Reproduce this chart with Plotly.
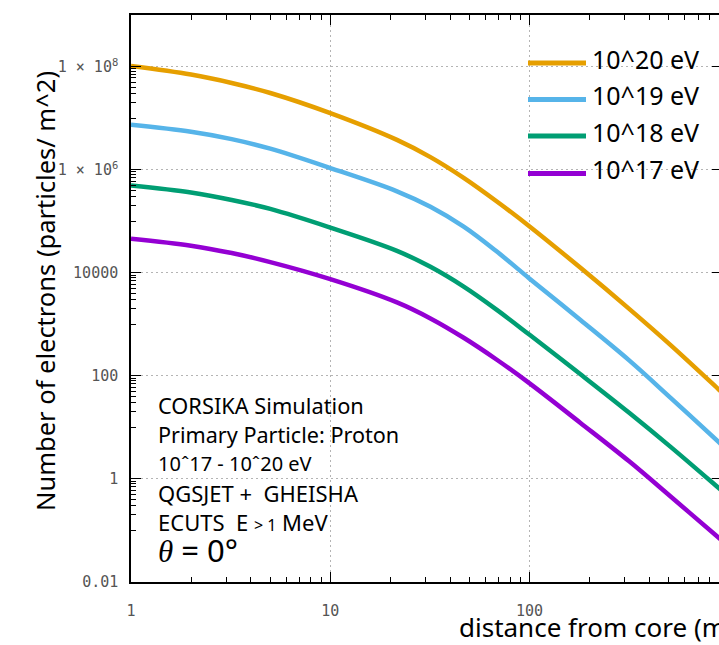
import plotly.graph_objects as go

# ---------------- data ----------------
distance_m = [1, 2, 3.2, 5, 10, 21.6, 31.8, 46.7, 68.5, 100, 180, 316, 510, 895, 1000]

e20_density = [1.023e8, 6.98e7, 4.80e7, 3.07e7, 1.25e7, 3.78e6, 1.75e6, 6.93e5, 2.41e5,
               7.91e4, 1.245e4, 1.99e3, 394, 53.1, 35.6]
e19_density = [7.41e6, 5.43e6, 3.91e6, 2.55e6, 1.074e6, 3.80e5, 1.90e5, 7.83e4, 2.57e4,
               7.67e3, 1.21e3, 199, 37.4, 5.05, 3.39]
e18_density = [4.90e5, 3.59e5, 2.58e5, 1.73e5, 7.52e4, 2.66e4, 1.30e4, 5.37e3, 1.90e3,
               624, 107, 19.2, 4.18, 0.649, 0.448]
e17_density = [4.57e4, 3.35e4, 2.41e4, 1.61e4, 7.52e3, 2.66e3, 1.30e3, 547, 205,
               71.3, 12.2, 2.19, 0.455, 0.0706, 0.049]

series_names = ["10^20 eV", "10^19 eV", "10^18 eV", "10^17 eV"]
series_values = [e20_density, e19_density, e18_density, e17_density]
series_colors = ["#E69F00", "#56B4E9", "#009E73", "#9400D3"]

y_tickvals = [0.01, 1, 100, 1e4, 1e6, 1e8]
y_ticktext = ["0.01", "1", "100", "10000",
              "1\u2009×\u200910<sup>6</sup>", "1\u2009×\u200910<sup>8</sup>"]
x_tickvals = [1, 10, 100, 1000]
x_ticktext = ["1", "10", "100", "1000"]

info_lines = [
    "CORSIKA Simulation",
    "Primary Particle: Proton",
    "10ˆ17 - 10ˆ20 eV",
    "QGSJET +&nbsp; GHEISHA",
    "ECUTS&nbsp; E <span style='font-size:16px'>&gt; 1</span> MeV",
    "<span style='font-family:Liberation Serif'><i>θ</i></span> = 0°",
]

# ---------------- layout geometry ----------------
W, H = 719, 645
L, T, B = 131, 15, 582
PW, PH = W - L, B - T


def px(xp):  # page pixel -> paper
    return (xp - L) / PW


def py(yp):
    return (B - yp) / PH


y_minor = [m * 10 * k for m in [0.01, 1, 100, 1e4, 1e6, 1e8] for k in range(1, 10)]
x_minor = [k * 10 ** d for d in range(0, 3) for k in range(2, 10)]

fig = go.Figure()
for name, vals, col in zip(series_names, series_values, series_colors):
    fig.add_trace(go.Scatter(
        x=distance_m, y=vals, mode="lines", name=name,
        line=dict(color=col, width=4.5, shape="spline", smoothing=1.0),
        showlegend=False,
    ))
fig.add_trace(go.Scatter(x=[], y=[], yaxis="y2", showlegend=False, hoverinfo="skip"))

tickfont = dict(family="DejaVu Sans Mono", size=15, color="#555555")
axis_common = dict(
    type="log", showline=True, linecolor="black", linewidth=1.5,
    ticks="inside", ticklen=10, tickwidth=1.2, tickcolor="black",
    showgrid=True, gridcolor="#b4b4b4", gridwidth=1, griddash="2px,3px",
    zeroline=False, tickfont=tickfont, tickmode="array",
)

fig.update_layout(
    width=W, height=H,
    margin=dict(l=L, r=0, t=T, b=H - B, pad=0),
    plot_bgcolor="white", paper_bgcolor="white",
    xaxis=dict(**axis_common, range=[0, PW / 199.3], tickvals=x_tickvals,
               ticktext=x_ticktext, mirror="ticks", ticklabelstandoff=14,
               minor=dict(tickmode="array", tickvals=x_minor, ticks="inside",
                          ticklen=5, tickwidth=1.2, tickcolor="black", showgrid=False)),
    yaxis=dict(**axis_common, range=[-2, 9], tickvals=y_tickvals,
               ticktext=y_ticktext, mirror=False, ticklabelstandoff=8,
               minor=dict(tickmode="array", tickvals=y_minor, ticks="inside",
                          ticklen=5, tickwidth=1.2, tickcolor="black", showgrid=False)),
    yaxis2=dict(type="log", range=[-2, 9], overlaying="y", side="right", anchor="x",
                showline=False, showgrid=False, zeroline=False, showticklabels=False,
                ticks="inside", ticklen=7, tickwidth=1.2, tickcolor="black",
                tickmode="array", tickvals=y_tickvals),
    showlegend=False,
)

ann = []
# axis titles
ann.append(dict(text="Number of electrons (particles/ m^2)", x=px(45.5), y=py(291.5),
                xref="paper", yref="paper", xanchor="center", yanchor="middle",
                textangle=-90, showarrow=False,
                font=dict(family="Noto Sans", size=25.5, color="black")))
ann.append(dict(text="distance from core (m)", x=px(457), y=py(627),
                xref="paper", yref="paper", xanchor="left", yanchor="middle",
                showarrow=False, font=dict(family="Noto Sans", size=26, color="black")))

# legend (drawn manually to match the long key lines)
legend_rows = [63, 99.5, 136, 173.5]
shapes = []
for name, col, yr in zip(series_names, series_colors, legend_rows):
    shapes.append(dict(type="line", xref="paper", yref="paper",
                       x0=px(528), x1=px(586), y0=py(yr), y1=py(yr),
                       line=dict(color=col, width=5)))
    ann.append(dict(text=name, x=px(590), y=py(yr - 4), xref="paper", yref="paper",
                    xanchor="left", yanchor="middle", showarrow=False,
                    font=dict(family="Noto Sans", size=25, color="black")))

# info block
info_y = [405, 434, 463, 492.5, 521.5, 550]
info_size = [21.8, 21.6, 20, 22, 22, 31]
for txt, yy, sz in zip(info_lines, info_y, info_size):
    ann.append(dict(text=txt, x=px(156), y=py(yy), xref="paper", yref="paper",
                    xanchor="left", yanchor="middle", showarrow=False,
                    font=dict(family="Noto Sans", size=sz, color="black")))

fig.update_layout(annotations=ann, shapes=shapes)
fig.write_html(
    "out.html",
    config={"displayModeBar": False},
    post_script="document.body.style.margin='0px';document.body.style.overflow='hidden';",
)
